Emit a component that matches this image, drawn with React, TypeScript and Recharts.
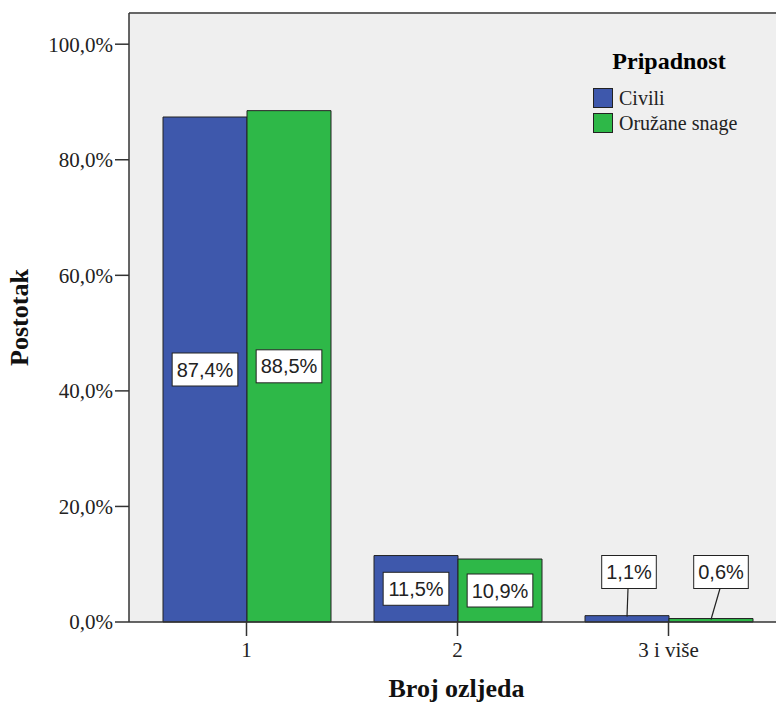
import { BarChart, Bar, XAxis, YAxis, CartesianGrid, Legend, ReferenceLine } from 'recharts';

const categories = ['1', '2', '3 i više'];
const civili = [87.4, 11.5, 1.1];
const oruzaneSnage = [88.5, 10.9, 0.6];
const yTicks = [0, 20, 40, 60, 80, 100];

const data = categories.map((cat, i) => ({
  cat,
  civili: civili[i],
  oruzane: oruzaneSnage[i],
}));

const BLUE = '#3e58ac';
const GREEN = '#2eb848';
const SERIF = '"Liberation Serif", "Times New Roman", serif';
const SANS = '"Liberation Sans", Arial, sans-serif';

const fmt = (v: number) => v.toFixed(1).replace('.', ',') + '%';

// rough width of label text at 20px Liberation Sans
const textWidth = (s: string) =>
  s.split('').reduce((w, ch) => w + (ch === ',' ? 5.6 : ch === '%' ? 17.8 : 11.1), 0);

const makeLabel = (shift: number) => (props: any) => {
  const { x, y, width, height, value } = props;
  const txt = fmt(Number(value));
  const w = textWidth(txt) + 9;
  const h = 33;
  const cx = x + width / 2;
  const base = y + height;
  if (height > 50) {
    const cy = y + height / 2;
    return (
      <g>
        <rect x={cx - w / 2} y={cy - h / 2} width={w} height={h} fill="#fff" stroke="#222" strokeWidth={1} />
        <text x={cx} y={cy + 7} textAnchor="middle" fontFamily={SANS} fontSize={20} fill="#222">{txt}</text>
      </g>
    );
  }
  // small bars: box above with leader line
  const bx = cx + shift;
  const cy = base - 50;
  return (
    <g>
      <line x1={bx - 1} y1={cy + h / 2} x2={cx} y2={y + 1} stroke="#222" strokeWidth={1.2} />
      <rect x={bx - w / 2} y={cy - h / 2} width={w} height={h} fill="#fff" stroke="#222" strokeWidth={1} />
      <text x={bx} y={cy + 7} textAnchor="middle" fontFamily={SANS} fontSize={20} fill="#222">{txt}</text>
    </g>
  );
};

const renderLegend = () => (
  <div style={{ position: 'relative', width: 170, height: 100 }}>
    <div style={{ position: 'absolute', left: 0, top: 0, width: 158, textAlign: 'center', fontFamily: SERIF, fontWeight: 'bold', fontSize: 24, lineHeight: '32px' }}>
      Pripadnost
    </div>
    {[
      { name: 'Civili', color: BLUE, top: 42 },
      { name: 'Oružane snage', color: GREEN, top: 67 },
    ].map((item) => (
      <div key={item.name} style={{ position: 'absolute', left: 3, top: item.top, display: 'flex', alignItems: 'center', height: 22 }}>
        <div style={{ width: 20, height: 20, background: item.color, border: '1px solid #222', boxSizing: 'border-box' }} />
        <span style={{ marginLeft: 6, fontFamily: SERIF, fontSize: 20, color: '#222', whiteSpace: 'nowrap' }}>{item.name}</span>
      </div>
    ))}
  </div>
);

export default function App() {
  return (
    <div style={{ position: 'absolute', left: 0, top: 0, background: '#fff' }}>
      <BarChart
        width={776}
        height={704}
        data={data}
        margin={{ top: 13, right: 0, bottom: 0, left: 0 }}
        barCategoryGap={22}
        barGap={0}
      >
        <CartesianGrid horizontal={false} vertical={false} fill="#efefef" stroke="none" />
        <XAxis
          dataKey="cat"
          height={82}
          padding={{ left: 12, right: 2 }}
          tickSize={14}
          tickMargin={6}
          axisLine={{ stroke: '#333', strokeWidth: 1.5 }}
          tickLine={{ stroke: '#333', strokeWidth: 1.5 }}
          tick={{ fontFamily: SERIF, fontSize: 21, fill: '#222' }}
          label={{
            content: (p: any) => (
              <text x={p.viewBox.x + p.viewBox.width / 2 + 4} y={697} textAnchor="middle" fontFamily={SERIF} fontWeight="bold" fontSize={26} fill="#111">
                Broj ozljeda
              </text>
            ),
          }}
        />
        <YAxis
          width={129}
          domain={[0, 105.4]}
          ticks={yTicks}
          tickFormatter={fmt}
          tickSize={14}
          tickMargin={2}
          axisLine={{ stroke: '#333', strokeWidth: 1.5 }}
          tickLine={{ stroke: '#333', strokeWidth: 1.5 }}
          tick={{ fontFamily: SERIF, fontSize: 21, fill: '#222' }}
          label={{
            content: (p: any) => {
              const cy = p.viewBox.y + p.viewBox.height / 2;
              return (
                <text x={19} y={cy} transform={`rotate(-90, 19, ${cy})`} textAnchor="middle" dominantBaseline="central" fontFamily={SERIF} fontWeight="bold" fontSize={26} fill="#111">
                  Postotak
                </text>
              );
            },
          }}
        />
        <ReferenceLine y={105.4} stroke="#666" strokeWidth={2} />
        <Legend
          layout="vertical"
          align="center"
          verticalAlign="middle"
          content={renderLegend}
          wrapperStyle={{ top: 45, left: 590, width: 170 }}
        />
        <Bar dataKey="civili" name="Civili" fill={BLUE} stroke="#222" strokeWidth={1} isAnimationActive={false} label={makeLabel(2)} />
        <Bar dataKey="oruzane" name="Oružane snage" fill={GREEN} stroke="#222" strokeWidth={1} isAnimationActive={false} label={makeLabel(10)} />
      </BarChart>
    </div>
  );
}
